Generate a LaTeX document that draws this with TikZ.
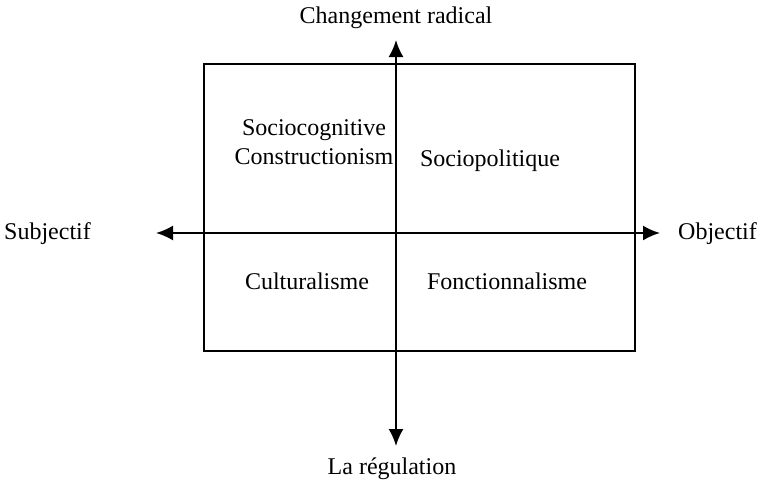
\documentclass[tikz,border=0pt]{standalone}
\usepackage{fontspec}
\setmainfont{Liberation Serif}
\usetikzlibrary{arrows.meta, positioning}

\begin{document}
\begin{tikzpicture}[x=1pt, y=-1pt]
    % Setup the styles
        \tikzset{axis label/.style={font=\fontsize{24}{28}\selectfont, inner sep=0pt},
                 quad label/.style={font=\fontsize{24}{29}\selectfont, align=center, inner sep=0pt},
                 axis arrow/.style={line width=2pt,
                                    {Latex[length=17pt,width=15pt]}-{Latex[length=17pt,width=15pt]}}}
        \useasboundingbox (0,0) rectangle (762,485);
        % Draw the frame
        \draw[line width=1.6pt] (204,64) rectangle (635,351);
        % Axis ends
        \coordinate (top) at (396,40);
        \coordinate (bottom) at (396,446);
        \coordinate (left) at (156,233);
        \coordinate (right) at (660,233);
        % Axis labels
        \node[axis label] at (396,18)      (radical) {Changement radical};
        \node[axis label] at (392,469)     (regul) {La régulation};
        \node[axis label, anchor=west] at (4,234)    (subj) {Subjectif};
        \node[axis label, anchor=west] at (678,234)  (obj) {Objectif};
        % Quadrant labels
        \node[quad label] at (314,142)     (socog) {Sociocognitive\\Constructionism};
        \node[quad label] at (490,161)     (sopol) {Sociopolitique};
        \node[quad label] at (307,281)     (cult) {Culturalisme};
        \node[quad label] at (507,281)     (fonct) {Fonctionnalisme};
        % Draw the axes
        \draw[axis arrow] (bottom) -- (top);
        \draw[axis arrow] (left) -- (right);
\end{tikzpicture}
\end{document}
